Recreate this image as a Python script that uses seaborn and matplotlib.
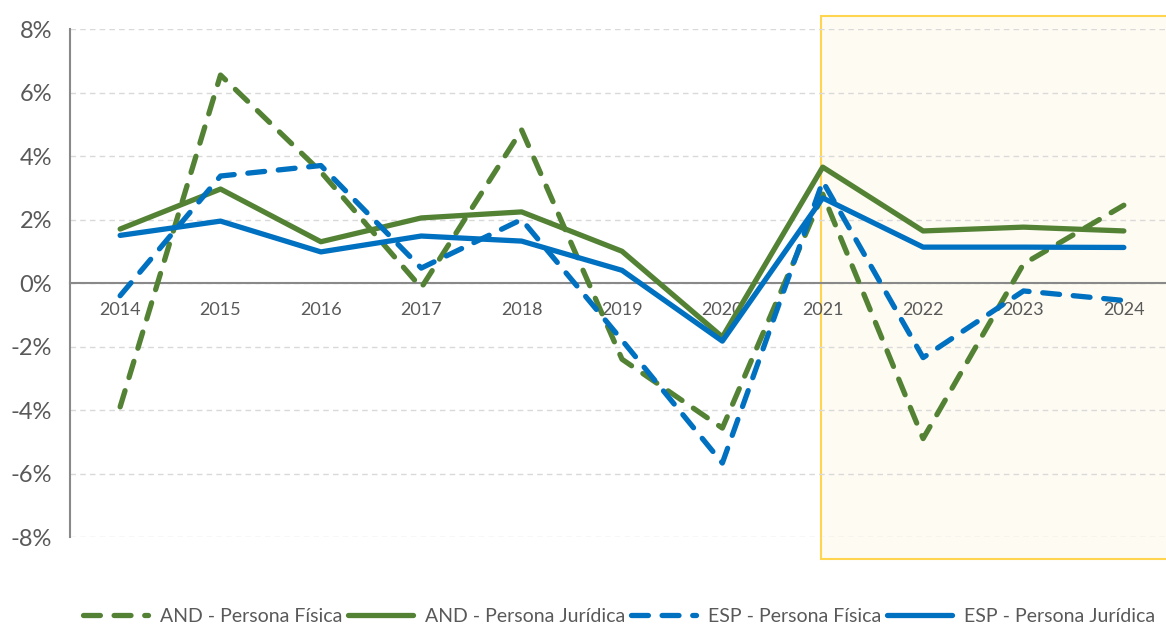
import matplotlib
matplotlib.use("Agg")
import matplotlib.pyplot as plt
import seaborn as sns
import pandas as pd
from matplotlib.patches import Rectangle
from matplotlib.ticker import FuncFormatter

# datos (variación anual, %)
anios = ["2014", "2015", "2016", "2017", "2018", "2019", "2020", "2021", "2022", "2023", "2024"]
and_fisica = [-3.9, 6.55, 3.5, -0.15, 4.82, -2.4, -4.57, 2.8, -4.9, 0.6, 2.45]
and_juridica = [1.7, 2.96, 1.3, 2.05, 2.24, 1.0, -1.7, 3.65, 1.64, 1.76, 1.64]
esp_fisica = [-0.4, 3.37, 3.7, 0.47, 2.0, -1.8, -5.67, 3.2, -2.35, -0.25, -0.55]
esp_juridica = [1.5, 1.95, 0.98, 1.48, 1.32, 0.4, -1.83, 2.68, 1.13, 1.13, 1.12]

series = [
    ("AND - Persona Física", and_fisica, "#548235", True),
    ("AND - Persona Jurídica", and_juridica, "#548235", False),
    ("ESP - Persona Física", esp_fisica, "#0070C0", True),
    ("ESP - Persona Jurídica", esp_juridica, "#0070C0", False),
]

sns.set_style("white")
plt.rcParams["font.family"] = ["Lato", "DejaVu Sans"]
gris = "#595959"

fig = plt.figure(figsize=(11.66, 6.24), dpi=100)
ax = fig.add_axes([0.060, 0.1394, 0.940, 0.8141])

pos = list(range(len(anios)))

# zona resaltada (previsión)
ax.add_patch(Rectangle((7 - 0.02, -8.69), 3.6, 17.1, facecolor="#FEFBF2",
                       edgecolor="#FFD54F", linewidth=1.5, clip_on=False, zorder=0))

for nombre, valores, color, discontinua in series:
    df = pd.DataFrame({"x": pos, "y": valores})
    sns.lineplot(data=df, x="x", y="y", ax=ax, color=color, linewidth=3.8,
                 label=nombre, zorder=3)
    linea = ax.get_lines()[-1]
    if discontinua:
        linea.set_dashes((3.2, 2.6))
        linea.set_dash_capstyle("round")
    linea.set_solid_capstyle("round")

ax.set_ylim(-8, 8)
ax.set_xlim(-0.5, 10.42)
ax.set_yticks(range(-8, 9, 2))
ax.yaxis.set_major_formatter(FuncFormatter(lambda v, p: f"{int(v)}%"))
ax.yaxis.grid(True, color="#D9D9D9", linestyle=(0, (4, 3)), linewidth=1)
ax.set_axisbelow(True)

for s in ["top", "right"]:
    ax.spines[s].set_visible(False)
ax.spines["left"].set_color("#898989")
ax.spines["left"].set_linewidth(1.5)
ax.spines["bottom"].set_position(("data", 0))
ax.spines["bottom"].set_color("#898989")
ax.spines["bottom"].set_linewidth(1.5)
ax.spines["bottom"].set_zorder(1)

ax.set_xticks(pos)
ax.set_xticklabels(anios)
ax.set_xticks([p + 0.5 for p in pos[:-1]], minor=True)
ax.tick_params(axis="x", which="major", length=0, pad=14, labelsize=13, labelcolor=gris)
ax.tick_params(axis="x", which="minor", length=6, width=1.5, color="#898989", direction="out")
ax.tick_params(axis="y", length=7, width=1.5, color="#898989", labelsize=17,
               labelcolor=gris, pad=6)
ax.set_xlabel("")
ax.set_ylabel("")

handles, labels = ax.get_legend_handles_labels()
ax.get_legend().remove()
fig.legend(handles, labels, loc="lower center", bbox_to_anchor=(0.531, -0.03), ncol=4,
           frameon=False, fontsize=14, handlelength=3.35, columnspacing=0.3,
           handletextpad=0.6, labelcolor=gris)

fig.savefig("out.png", dpi=100)
